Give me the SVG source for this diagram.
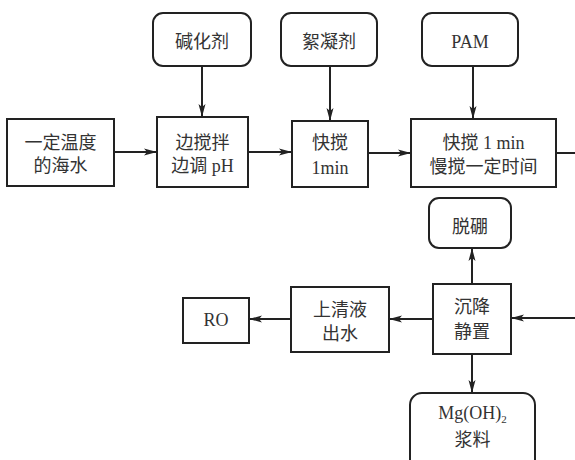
<svg xmlns="http://www.w3.org/2000/svg" width="575" height="460" viewBox="0 0 575 460">
<defs>
<marker id="ah" markerUnits="userSpaceOnUse" markerWidth="14" markerHeight="8" refX="13" refY="4" orient="auto">
<path d="M0,0.5 L13,4 L0,7.5 L3,4 z" fill="#222"/>
</marker>
<style>
rect{fill:#fff;stroke:#222;stroke-width:2}
text{font-family:"Liberation Serif","Noto Sans CJK SC",serif;font-size:18px;fill:#333;text-anchor:middle}
.c line{stroke:#222;stroke-width:2}
</style>
</defs>
<rect x="0" y="0" width="575" height="460" style="fill:#fff;stroke:none"/>
<g class="c" id="connectors">
<line x1="202" y1="66" x2="202" y2="117" marker-end="url(#ah)"/>
<line x1="330" y1="66" x2="330" y2="121" marker-end="url(#ah)"/>
<line x1="473" y1="66" x2="473" y2="119" marker-end="url(#ah)"/>
<line x1="114" y1="152" x2="157" y2="152" marker-end="url(#ah)"/>
<line x1="248" y1="152" x2="292" y2="152" marker-end="url(#ah)"/>
<line x1="368" y1="153" x2="411" y2="153" marker-end="url(#ah)"/>
<line x1="556" y1="153" x2="576" y2="153"/>
<line x1="576" y1="318" x2="511" y2="318" marker-end="url(#ah)"/>
<line x1="433" y1="319" x2="389" y2="319" marker-end="url(#ah)"/>
<line x1="291" y1="319" x2="249" y2="319" marker-end="url(#ah)"/>
<line x1="472" y1="284" x2="472" y2="248" marker-end="url(#ah)"/>
<line x1="472" y1="354" x2="472" y2="393" marker-end="url(#ah)"/>
</g>
<g id="seawater"><rect x="7" y="119" width="107" height="67"/><text x="60.5" y="149">一定温度</text><text x="60.5" y="172">的海水</text></g>
<g id="alkali"><rect x="153" y="13" width="98" height="53" rx="10"/><text x="202" y="48">碱化剂</text></g>
<g id="stirph"><rect x="157" y="117" width="91" height="70"/><text x="202.5" y="149">边搅拌</text><text x="202.5" y="172">边调 pH</text></g>
<g id="flocculant"><rect x="281" y="13" width="96" height="53" rx="10"/><text x="329" y="48">絮凝剂</text></g>
<g id="fast"><rect x="292" y="121" width="76" height="66"/><text x="330" y="149">快搅</text><text x="330" y="174">1min</text></g>
<g id="pam"><rect x="422" y="13" width="96" height="53" rx="10"/><text x="470" y="48">PAM</text></g>
<g id="fastslow"><rect x="411" y="119" width="145" height="68"/><text x="483.5" y="149">快搅 1 min</text><text x="483.5" y="173">慢搅一定时间</text></g>
<g id="boron"><rect x="429" y="198" width="82" height="50" rx="10"/><text x="470" y="233">脱硼</text></g>
<g id="settle"><rect x="433" y="284" width="78" height="70"/><text x="472" y="313">沉降</text><text x="472" y="338">静置</text></g>
<g id="supernatant"><rect x="291" y="287" width="98" height="65"/><text x="340" y="316">上清液</text><text x="340" y="340">出水</text></g>
<g id="ro"><rect x="183" y="298" width="66" height="45"/><text x="216" y="326">RO</text></g>
<g id="mgslurry"><rect x="410" y="393" width="125" height="85" rx="12"/><text x="472.5" y="419">Mg(OH)<tspan font-size="11" dy="4">2</tspan></text><text x="472.5" y="446">浆料</text></g>
</svg>
